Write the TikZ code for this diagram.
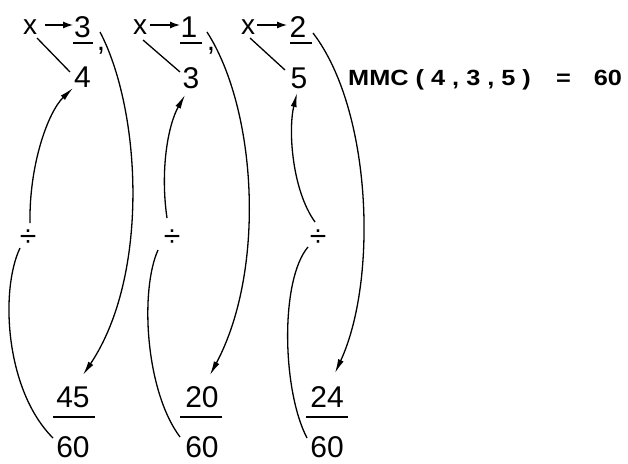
\documentclass[tikz,border=0pt]{standalone}
\usepackage{fontspec}
\setmainfont{Liberation Sans}
\usetikzlibrary{arrows.meta}
\begin{document}
\begin{tikzpicture}[x=1pt,y=-1pt,
  num/.style={inner sep=0pt, font=\fontsize{30}{36}\selectfont},
  var/.style={inner sep=0pt, font=\fontsize{28}{34}\selectfont},
  divs/.style={inner sep=0pt, font=\fontsize{30}{34}\selectfont},
  curve/.style={line width=1.3pt},
  bigtip/.style={-{Latex[length=14pt,width=6pt]}},
  smalltip/.style={-{Latex[length=10pt,width=7pt]}},
  fbar/.style={line width=1.6pt}]
\useasboundingbox (0,0) rectangle (628,463);
% group 1
\node[var] (x1) at (30,27) {x};
\node[num] (n3a) at (82.5,27) {3};
\node[num] (c1) at (101,51) {,};
\node[num] (d4) at (82.5,77) {4};
\node[divs] (div1) at (28,238) {÷};
\node[num] (f45) at (73,397) {45};
\node[num] (f60a) at (73,447) {60};
% group 2
\node[var] (x2) at (140,27) {x};
\node[num] (n1) at (189,27) {1};
\node[num] (c2) at (211,51) {,};
\node[num] (d3) at (191,78) {3};
\node[divs] (div2) at (172,238) {÷};
\node[num] (f20) at (202,397) {20};
\node[num] (f60b) at (202,447) {60};
% group 3
\node[var] (x3) at (248,27) {x};
\node[num] (n2) at (298,27) {2};
\node[num] (d5) at (299,78) {5};
\node[divs] (div3) at (318,238) {÷};
\node[num] (f24) at (327,397) {24};
\node[num] (f60c) at (327,447) {60};
% MMC
\node[anchor=west, inner sep=0pt, font=\bfseries\fontsize{22}{26}\selectfont] (mmc) at (348,80)
  {\scalebox{1.15}[1]{MMC ( 4 , 3 , 5 )\hspace{1.0em}=\hspace{0.9em}60}};
% fraction bars
\draw[fbar] ([shift={(-9.5,16)}]n3a.center) -- ([shift={(10.5,16)}]n3a.center);
\draw[fbar] ([shift={(-9,16)}]n1.center) -- ([shift={(13,16)}]n1.center);
\draw[fbar] ([shift={(-8,16)}]n2.center) -- ([shift={(14,16)}]n2.center);
\draw[fbar] ([shift={(-20,20)}]f45.center) -- ([shift={(22,20)}]f45.center);
\draw[fbar] ([shift={(-22,20)}]f20.center) -- ([shift={(20,20)}]f20.center);
\draw[fbar] ([shift={(-21,20)}]f24.center) -- ([shift={(21,20)}]f24.center);
% x -> numerator arrows
\draw[curve,smalltip] ([shift={(15,-2)}]x1.center) -- ([shift={(-9.5,-2)}]n3a.center);
\draw[curve,smalltip] ([shift={(10,-2)}]x2.center) -- ([shift={(-9,-2)}]n1.center);
\draw[curve,smalltip] ([shift={(9,-2)}]x3.center) -- ([shift={(-11,-2)}]n2.center);
% x -- denominator lines
\draw[curve] ([shift={(7,11)}]x1.center) -- ([shift={(-12.5,-5)}]d4.center);
\draw[curve] ([shift={(3,13)}]x2.center) -- ([shift={(-11,-6)}]d3.center);
\draw[curve] ([shift={(2,11)}]x3.center) -- ([shift={(-14,-8)}]d5.center);
% long curves numerator -> new numerator
\draw[curve,bigtip] ([shift={(17.5,5)}]n3a.center) .. controls (141,110) and (150,275) .. ([shift={(10,-22)}]f45.center);
\draw[curve,bigtip] ([shift={(18,5)}]n1.center) .. controls (257,110) and (266,270) .. ([shift={(8,-22)}]f20.center);
\draw[curve,bigtip] ([shift={(15,6)}]n2.center) .. controls (372,110) and (378,280) .. ([shift={(8,-24)}]f24.center);
% left curves 60 -> divide
\draw[curve] ([shift={(-20,-9)}]f60a.center) .. controls (5,390) and (0,290) .. ([shift={(-8,10)}]div1.center);
\draw[curve] ([shift={(-22,-10)}]f60b.center) .. controls (145,390) and (140,290) .. ([shift={(-14,12)}]div2.center);
\draw[curve] ([shift={(-20,-9)}]f60c.center) .. controls (282,390) and (280,280) .. ([shift={(-10,9)}]div3.center);
% upper curves divide -> denominator
\draw[curve,bigtip] ([shift={(2,-15)}]div1.center) .. controls (29,165) and (48,112) .. ([shift={(-9.5,11)}]d4.center);
\draw[curve,bigtip] ([shift={(-5,-20)}]div2.center) .. controls (160,170) and (168,125) .. ([shift={(-6,17)}]d3.center);
\draw[curve,bigtip] ([shift={(-3,-16)}]div3.center) .. controls (292,190) and (288,130) .. ([shift={(-2,15)}]d5.center);
\end{tikzpicture}
\end{document}
